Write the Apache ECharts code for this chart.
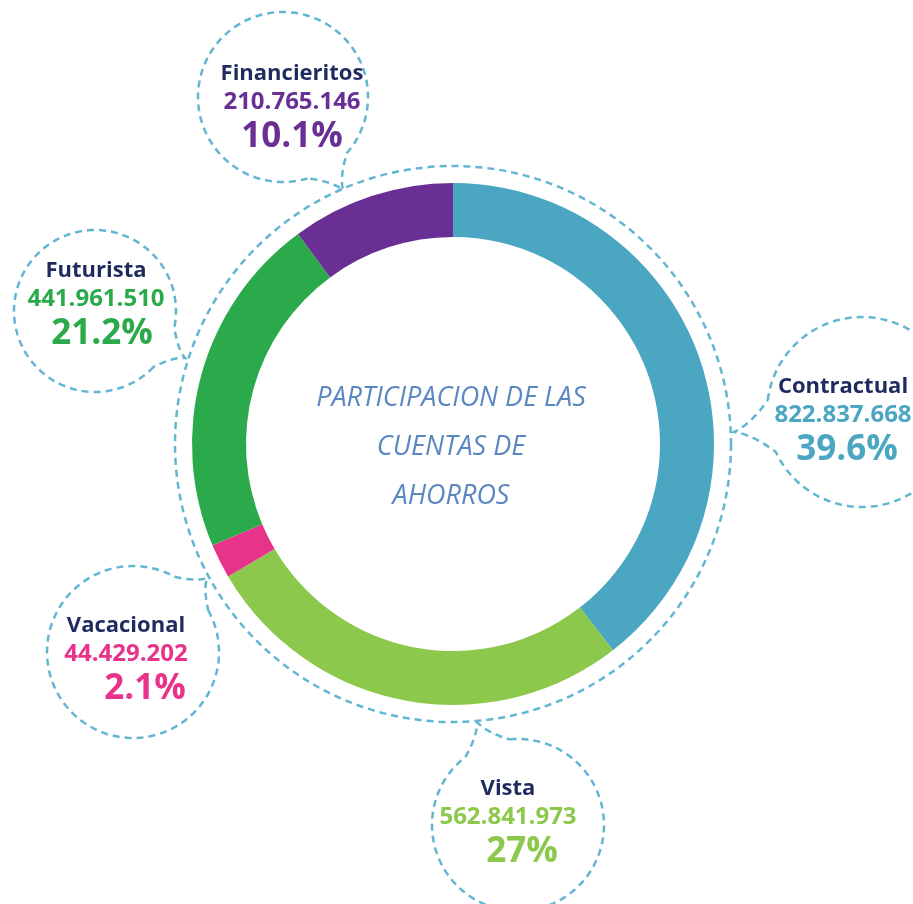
<!DOCTYPE html>
<html>
<head>
<meta charset="utf-8">
<script src="https://cdn.jsdelivr.net/npm/echarts@6/dist/echarts.min.js"></script>
<style>
    html, body {margin: 0; padding: 0; background: #fff;}
    #chart {width: 913px; height: 904px;}
</style>
</head>
<body>
<div id="chart"></div>
<script>
// participacion de las cuentas de ahorros
const names = ['Contractual', 'Vista', 'Vacacional', 'Futurista', 'Financieritos'];
const values = [822837668, 562841973, 44429202, 441961510, 210765146];
const pctLabels = ['39.6%', '27%', '2.1%', '21.2%', '10.1%'];
const colors = ['#4ba6c1', '#8cc84b', '#e8338b', '#2baa4b', '#6a2f94'];

// label block positions (center x, top y), pct nudge, bubble geometry
const labelPos = [[843, 373], [508, 775], [126, 612], [96, 257], [292, 60]];
const pctShift = [8, 28, 38, 12, 0];
const bubbles = [
    {cx: 862, cy: 412, r: 95, tx: 734, ty: 432},
    {cx: 518, cy: 825, r: 86, tx: 477, ty: 722},
    {cx: 133, cy: 652, r: 86, tx: 207, ty: 578},
    {cx: 95, cy: 311, r: 81, tx: 185, ty: 358},
    {cx: 283, cy: 97, r: 85, tx: 343, ty: 190},
];
const CX = 453, CY = 444;
const dashColor = '#62b6d2';

const fmt = (v) => String(v).replace(/\B(?=(\d{3})+(?!\d))/g, '.');

// dashed speech bubble: open circle + curved tail to tip
function bubblePoints(b) {
    const th = Math.atan2(b.ty - b.cy, b.tx - b.cx);
    const d = 0.28;
    const pts = [];
    const n = 120;
    for (let i = 0; i <= n; i++) {
        const a = th + d + (2 * Math.PI - 2 * d) * i / n;
        pts.push([b.cx + b.r * Math.cos(a), b.cy + b.r * Math.sin(a)]);
    }
    const p2 = pts[pts.length - 1];
    const p1 = pts[0];
    const ctl = [(b.cx + b.r * Math.cos(th)) * 0.5 + b.tx * 0.5, (b.cy + b.r * Math.sin(th)) * 0.5 + b.ty * 0.5];
    const quad = (a, c, e, t) => [
        (1 - t) * (1 - t) * a[0] + 2 * (1 - t) * t * c[0] + t * t * e[0],
        (1 - t) * (1 - t) * a[1] + 2 * (1 - t) * t * c[1] + t * t * e[1],
    ];
    const c1 = [ctl[0] * 0.6 + (p2[0] + b.tx) / 2 * 0.4, ctl[1] * 0.6 + (p2[1] + b.ty) / 2 * 0.4];
    const c2 = [ctl[0] * 0.6 + (p1[0] + b.tx) / 2 * 0.4, ctl[1] * 0.6 + (p1[1] + b.ty) / 2 * 0.4];
    for (let i = 1; i <= 20; i++) pts.push(quad(p2, c1, [b.tx, b.ty], i / 20));
    for (let i = 1; i <= 20; i++) pts.push(quad([b.tx, b.ty], c2, p1, i / 20));
    return pts;
}

const myChart = echarts.init(document.getElementById('chart'));

const graphics = [{
    type: 'circle',
    shape: {cx: CX, cy: CY, r: 278},
    style: {fill: 'none', stroke: dashColor, lineWidth: 2.5, lineDash: [7, 5]},
    z: 1,
}, {
    type: 'text',
    style: {
        x: 451, y: 447,
        text: 'PARTICIPACION DE LAS\nCUENTAS DE\nAHORROS',
        fill: '#5b87c0',
        font: 'italic 27px "Open Sans"',
        lineHeight: 49,
        align: 'center',
        verticalAlign: 'middle',
    },
    z: 5,
}];
bubbles.forEach((b) => {
    graphics.push({
        type: 'polyline',
        shape: {points: bubblePoints(b)},
        style: {fill: 'none', stroke: dashColor, lineWidth: 2.5, lineDash: [7, 5]},
        z: 1,
    });
});

const rich = {};
names.forEach((n, i) => {
    rich['v' + i] = {color: colors[i], fontSize: 24, fontWeight: 'bold', fontFamily: 'Open Sans', lineHeight: 28};
    rich['p' + i] = {color: colors[i], fontSize: 35, fontWeight: 'bold', fontFamily: 'Open Sans', lineHeight: 42,
        padding: [0, 0, 0, pctShift[i]]};
});
rich.n = {color: '#1f2a5e', fontSize: 22, fontWeight: 'bold', fontFamily: 'Open Sans', lineHeight: 28};

const option = {
    animation: false,
    graphic: graphics,
    series: [{
        type: 'pie',
        center: [CX, CY],
        radius: [207, 261],
        startAngle: 90,
        clockwise: true,
        silent: true,
        data: names.map((n, i) => ({name: n, value: values[i], itemStyle: {color: colors[i]}})),
        label: {
            show: true,
            position: 'outside',
            formatter: (p) => '{n|' + p.name + '}\n{v' + p.dataIndex + '|' + fmt(p.value) + '}\n{p' + p.dataIndex + '|' + pctLabels[p.dataIndex] + '}',
            rich: rich,
            align: 'center',
        },
        labelLine: {show: false},
        labelLayout: (p) => ({
            x: labelPos[p.dataIndex][0],
            y: labelPos[p.dataIndex][1],
            align: 'center',
            verticalAlign: 'top',
        }),
        z: 3,
    }],
};
myChart.setOption(option);
</script>
</body>
</html>
